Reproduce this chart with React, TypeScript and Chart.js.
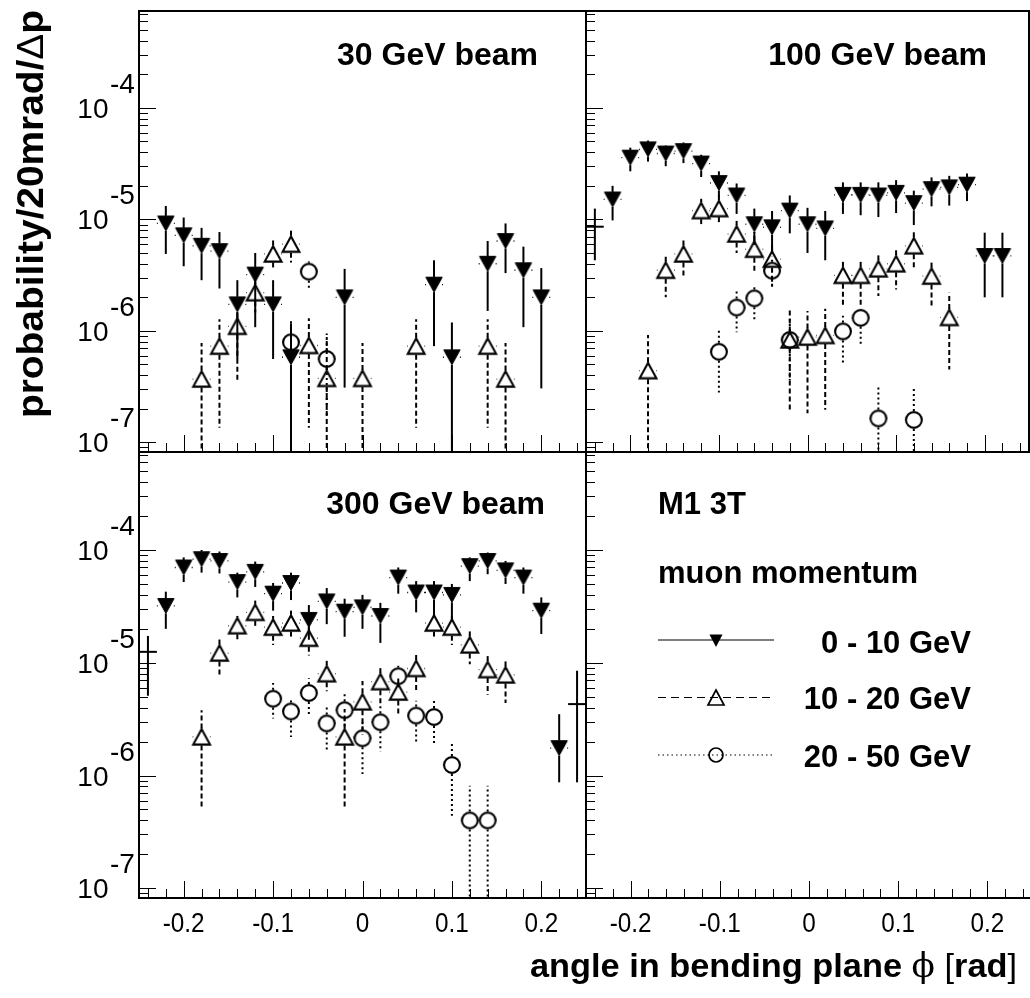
import React, { useEffect, useRef } from "react";
import { Chart, registerables } from "chart.js";

Chart.register(...registerables);

const FONT = '"Liberation Sans", Arial, Helvetica, sans-serif';
const CANVAS_W = 1040;
const CANVAS_H = 998;

const X_MIN = -0.25;
const X_MAX = 0.25;
const Y_MIN = 8.2e-8;
const Y_MAX = 7.4e-4;
const HALF_BIN = 0.01;

const xMajorTicks = [-0.2, -0.1, 0, 0.1, 0.2];
const xTickLabels = ["-0.2", "-0.1", "0", "0.1", "0.2"];
const yDecadeValues = [1e-4, 1e-5, 1e-6, 1e-7];
const yDecadeExponents = ["-4", "-5", "-6", "-7"];

const beamTitles = ["30 GeV beam", "100 GeV beam", "300 GeV beam"];
const legendHeader = ["M1 3T", "muon momentum"];
const legendLabels = ["0 - 10 GeV", "10 - 20 GeV", "20 - 50 GeV"];
const yTitle = "probability/20mrad/";
const xTitle = "angle in bending plane ";

// ---------- 30 GeV beam ----------
const b30_m0_x = [-0.22, -0.2, -0.18, -0.16, -0.14, -0.12, -0.1, -0.08, -0.02, 0.08, 0.1, 0.14, 0.16, 0.18, 0.2];
const b30_m0_y = [9.2e-6, 7.2e-6, 5.8e-6, 5.2e-6, 1.73e-6, 3.2e-6, 1.73e-6, 5.8e-7, 2.0e-6, 2.6e-6, 5.8e-7, 4.0e-6, 6.4e-6, 3.5e-6, 2.0e-6];
const b30_m0_hi = [1.32e-5, 1.04e-5, 8.4e-6, 7.7e-6, 2.85e-6, 5.0e-6, 2.85e-6, 1.17e-6, 3.6e-6, 4.3e-6, 1.19e-6, 6.4e-6, 9.2e-6, 5.7e-6, 3.66e-6];
const b30_m0_lo = [4.9e-6, 3.8e-6, 2.85e-6, 2.4e-6, 5.6e-7, 1.08e-6, 5.6e-7, 0, 3.1e-7, 7.3e-7, 0, 1.51e-6, 3.3e-6, 1.08e-6, 3.05e-7];

const b30_m1_x = [-0.18, -0.16, -0.14, -0.12, -0.1, -0.08, -0.06, -0.04, 0.0, 0.06, 0.14, 0.16];
const b30_m1_y = [3.7e-7, 7.3e-7, 1.1e-6, 2.2e-6, 4.9e-6, 6.0e-6, 7.4e-7, 3.75e-7, 3.75e-7, 7.3e-7, 7.3e-7, 3.7e-7];
const b30_m1_hi = [7.8e-7, 1.27e-6, 1.79e-6, 3.3e-6, 6.5e-6, 8.0e-6, 1.3e-6, 8.8e-7, 7.8e-7, 1.27e-6, 1.27e-6, 7.8e-7];
const b30_m1_lo = [0, 1.35e-7, 3.45e-7, 1.46e-6, 3.6e-6, 4.1e-6, 1.35e-7, 0, 0, 1.35e-7, 1.35e-7, 0];

const b30_m2_x = [-0.08, -0.06, -0.04];
const b30_m2_y = [7.9e-7, 3.4e-6, 5.6e-7];
const b30_m2_hi = [1.3e-6, 4.2e-6, 9.5e-7];
const b30_m2_lo = [2.3e-7, 2.4e-6, 1.7e-7];

// ---------- 100 GeV beam ----------
const b100_m0_x = [-0.22, -0.2, -0.18, -0.16, -0.14, -0.12, -0.1, -0.08, -0.06, -0.04, -0.02, 0.0, 0.02, 0.04, 0.06, 0.08, 0.1, 0.12, 0.14, 0.16, 0.18, 0.2, 0.22];
const b100_m0_y = [1.51e-5, 3.58e-5, 4.25e-5, 3.9e-5, 4.1e-5, 3.17e-5, 2.12e-5, 1.64e-5, 9.05e-6, 8.5e-6, 1.2e-5, 9.05e-6, 8.3e-6, 1.66e-5, 1.66e-5, 1.64e-5, 1.73e-5, 1.4e-5, 1.87e-5, 1.94e-5, 2.05e-5, 4.7e-6, 4.7e-6];
const b100_m0_hi = [2.0e-5, 4.4e-5, 5.1e-5, 4.6e-5, 4.9e-5, 3.8e-5, 2.7e-5, 2.1e-5, 1.25e-5, 1.19e-5, 1.64e-5, 1.27e-5, 1.19e-5, 2.15e-5, 2.15e-5, 2.15e-5, 2.25e-5, 1.81e-5, 2.38e-5, 2.46e-5, 2.58e-5, 7.6e-6, 7.6e-6];
const b100_m0_lo = [9.8e-6, 2.7e-5, 3.3e-5, 3.0e-5, 3.2e-5, 2.4e-5, 1.58e-5, 1.12e-5, 5.9e-6, 5.0e-6, 7.5e-6, 5.0e-6, 4.3e-6, 1.12e-5, 1.09e-5, 1.05e-5, 1.14e-5, 8.9e-6, 1.31e-5, 1.33e-5, 1.46e-5, 2.0e-6, 2.0e-6];

const b100_m1_x = [-0.18, -0.16, -0.14, -0.12, -0.1, -0.08, -0.06, -0.04, -0.02, 0.0, 0.02, 0.04, 0.06, 0.08, 0.1, 0.12, 0.14, 0.16];
const b100_m1_y = [4.4e-7, 3.5e-6, 4.9e-6, 1.2e-5, 1.25e-5, 7.4e-6, 5.4e-6, 4.4e-6, 8.3e-7, 8.8e-7, 9.1e-7, 3.15e-6, 3.15e-6, 3.6e-6, 4.0e-6, 5.8e-6, 3.1e-6, 1.32e-6];
const b100_m1_hi = [9.2e-7, 4.7e-6, 6.5e-6, 1.53e-5, 1.64e-5, 9.7e-6, 7.7e-6, 6.0e-6, 1.56e-6, 1.51e-6, 1.58e-6, 4.2e-6, 4.2e-6, 4.8e-6, 5.3e-6, 7.7e-6, 4.1e-6, 2.2e-6];
const b100_m1_lo = [0, 2.0e-6, 3.05e-6, 8.9e-6, 9.3e-6, 5.0e-6, 3.4e-6, 2.5e-6, 1.9e-7, 1.83e-7, 1.96e-7, 1.68e-6, 1.68e-6, 2.06e-6, 2.35e-6, 3.7e-6, 1.68e-6, 4.5e-7];

const b100_m2_x = [-0.1, -0.08, -0.06, -0.04, -0.02, 0.04, 0.06, 0.08, 0.12];
const b100_m2_y = [6.5e-7, 1.62e-6, 1.96e-6, 3.47e-6, 8.3e-7, 9.9e-7, 1.31e-6, 1.64e-7, 1.59e-7];
const b100_m2_hi = [1.04e-6, 2.28e-6, 2.6e-6, 4.66e-6, 1.3e-6, 1.37e-6, 1.56e-6, 3.3e-7, 3.2e-7];
const b100_m2_lo = [2.8e-7, 9.7e-7, 1.23e-6, 2.5e-6, 3.6e-7, 5.1e-7, 7.4e-7, 0, 0];

const b100_edge_x = [-0.24];
const b100_edge_y = [8.6e-6];
const b100_edge_hi = [1.25e-5];
const b100_edge_lo = [4.3e-6];

// ---------- 300 GeV beam ----------
const b300_m0_x = [-0.22, -0.2, -0.18, -0.16, -0.14, -0.12, -0.1, -0.08, -0.06, -0.04, -0.02, 0.0, 0.02, 0.04, 0.06, 0.08, 0.1, 0.12, 0.14, 0.16, 0.18, 0.2, 0.22];
const b300_m0_y = [3.19e-5, 7.0e-5, 8.3e-5, 8.0e-5, 5.2e-5, 6.4e-5, 4.1e-5, 5.1e-5, 2.4e-5, 3.5e-5, 2.84e-5, 3.1e-5, 2.6e-5, 5.7e-5, 4.2e-5, 4.2e-5, 4.0e-5, 7.2e-5, 8.0e-5, 6.6e-5, 5.7e-5, 2.9e-5, 1.75e-6];
const b300_m0_hi = [4.27e-5, 8.6e-5, 1.0e-4, 9.7e-5, 6.3e-5, 7.9e-5, 5.1e-5, 6.3e-5, 3.25e-5, 4.6e-5, 3.7e-5, 4.0e-5, 3.4e-5, 7.0e-5, 5.3e-5, 5.3e-5, 5.0e-5, 8.6e-5, 9.5e-5, 8.0e-5, 7.0e-5, 3.8e-5, 3.5e-6];
const b300_m0_lo = [2.0e-5, 5.2e-5, 6.3e-5, 6.2e-5, 3.8e-5, 4.7e-5, 2.9e-5, 3.6e-5, 1.6e-5, 2.2e-5, 1.7e-5, 2.0e-5, 1.5e-5, 4.1e-5, 2.8e-5, 2.6e-5, 2.4e-5, 5.3e-5, 6.1e-5, 5.0e-5, 4.1e-5, 1.8e-5, 8.7e-7];

const b300_m1_x = [-0.18, -0.16, -0.14, -0.12, -0.1, -0.08, -0.06, -0.04, -0.02, 0.0, 0.02, 0.04, 0.06, 0.08, 0.1, 0.12, 0.14, 0.16];
const b300_m1_y = [2.2e-6, 1.22e-5, 2.13e-5, 2.8e-5, 2.07e-5, 2.25e-5, 1.65e-5, 8.0e-6, 2.2e-6, 4.5e-6, 6.8e-6, 5.5e-6, 8.9e-6, 2.25e-5, 2.07e-5, 1.44e-5, 8.7e-6, 7.8e-6];
const b300_m1_hi = [3.8e-6, 1.63e-5, 2.6e-5, 3.56e-5, 2.6e-5, 2.9e-5, 2.1e-5, 1.04e-5, 3.9e-6, 6.9e-6, 9.1e-6, 7.5e-6, 1.24e-5, 2.9e-5, 2.6e-5, 1.93e-5, 1.17e-5, 1.04e-5];
const b300_m1_lo = [5.1e-7, 7.7e-6, 1.52e-5, 2.1e-5, 1.44e-5, 1.63e-5, 1.16e-5, 5.6e-6, 5.1e-7, 2.3e-6, 4.3e-6, 3.5e-6, 5.5e-6, 1.63e-5, 1.44e-5, 9.7e-6, 5.2e-6, 4.4e-6];

const b300_m2_x = [-0.1, -0.08, -0.06, -0.04, -0.02, 0.0, 0.02, 0.04, 0.06, 0.08, 0.1, 0.12, 0.14];
const b300_m2_y = [4.8e-6, 3.7e-6, 5.4e-6, 2.9e-6, 3.8e-6, 2.14e-6, 2.97e-6, 7.6e-6, 3.4e-6, 3.3e-6, 1.24e-6, 4.0e-7, 4.0e-7];
const b300_m2_hi = [6.6e-6, 4.9e-6, 7.3e-6, 4.2e-6, 5.3e-6, 2.97e-6, 4.2e-6, 9.4e-6, 4.6e-6, 4.6e-6, 1.9e-6, 8.1e-7, 8.1e-7];
const b300_m2_lo = [3.2e-6, 2.2e-6, 3.5e-6, 1.66e-6, 2.6e-6, 1.03e-6, 1.63e-6, 5.9e-6, 1.97e-6, 1.9e-6, 4.4e-7, 0, 0];

const b300_edge_x = [-0.24, 0.24];
const b300_edge_y = [1.25e-5, 4.3e-6];
const b300_edge_hi = [1.73e-5, 8.5e-6];
const b300_edge_lo = [5.1e-6, 8.7e-7];

// ---------- layout ----------
const RECT_TL = { l: 139, r: 586, t: 6, b: 452 };
const RECT_TR = { l: 586, r: 1032, t: 6, b: 452 };
const RECT_BL = { l: 139, r: 586, t: 452, b: 898 };
const RECT_BR = { l: 586, r: 1032, t: 452, b: 898 };

const STYLE: any = {
  A: { dash: [], gy: 7.5, gx: 8 },
  B: { dash: [5, 3], gy: 8.5, gx: 8.3 },
  C: { dash: [2, 3], gy: 9, gx: 8.5 },
  E: { dash: [], gy: 0, gx: 0 },
};

let markerCache: any = null;
function getMarkers() {
  if (markerCache) return markerCache;
  const mk = (w: number, h: number, draw: (g: CanvasRenderingContext2D) => void) => {
    const c = document.createElement("canvas");
    c.width = w;
    c.height = h;
    const g = c.getContext("2d")!;
    draw(g);
    return c;
  };
  const A = mk(22, 22, (g) => {
    g.fillStyle = "#000";
    g.strokeStyle = "#000";
    g.lineWidth = 1;
    g.lineJoin = "round";
    g.beginPath();
    g.moveTo(2.8, 3.6);
    g.lineTo(19.2, 3.6);
    g.lineTo(11, 18.4);
    g.closePath();
    g.fill();
    g.stroke();
  });
  const B = mk(22, 22, (g) => {
    g.strokeStyle = "#000";
    g.lineWidth = 2.1;
    g.beginPath();
    g.moveTo(11, 3.2);
    g.lineTo(19.4, 18.6);
    g.lineTo(2.6, 18.6);
    g.closePath();
    g.stroke();
  });
  const C = mk(22, 22, (g) => {
    g.strokeStyle = "#000";
    g.lineWidth = 2.1;
    g.beginPath();
    g.arc(11, 11, 7.9, 0, Math.PI * 2);
    g.stroke();
  });
  markerCache = { A, B, C };
  return markerCache;
}

function series(kind: string, xs: number[], ys: number[], hi: number[], lo: number[]) {
  const markers = getMarkers();
  const noMarker = kind === "E";
  return {
    kind,
    errHi: hi,
    errLo: lo,
    data: xs.map((x, i) => ({ x, y: ys[i] })),
    pointStyle: noMarker ? "circle" : markers[kind],
    pointRadius: noMarker ? 0 : 10,
    pointHoverRadius: noMarker ? 0 : 10,
    borderColor: "#000",
    backgroundColor: "#000",
    showLine: false,
  };
}

function seg(ctx: CanvasRenderingContext2D, x1: number, y1: number, x2: number, y2: number) {
  ctx.beginPath();
  ctx.moveTo(x1, y1);
  ctx.lineTo(x2, y2);
  ctx.stroke();
}

function drawText(ctx: CanvasRenderingContext2D, text: string, x: number, y: number, font: string, align: CanvasTextAlign, sx = 1) {
  ctx.save();
  ctx.font = font;
  ctx.textAlign = align;
  ctx.textBaseline = "alphabetic";
  ctx.fillStyle = "#000";
  ctx.translate(x, y);
  ctx.scale(sx, 1);
  ctx.fillText(text, 0, 0);
  ctx.restore();
}

function drawPieces(ctx: CanvasRenderingContext2D, pieces: [string, string][], x: number, y: number, align: string, targetW: number) {
  const widths = pieces.map(([t, f]) => {
    ctx.font = f;
    return ctx.measureText(t).width;
  });
  const total = widths.reduce((a, b) => a + b, 0);
  const sx = targetW / total;
  const start = align === "right" ? x - total * sx : align === "center" ? x - (total * sx) / 2 : x;
  ctx.save();
  ctx.translate(start, y);
  ctx.scale(sx, 1);
  ctx.fillStyle = "#000";
  ctx.textAlign = "left";
  ctx.textBaseline = "alphabetic";
  let cx = 0;
  pieces.forEach(([t, f], i) => {
    ctx.font = f;
    ctx.fillText(t, cx, 0);
    cx += widths[i];
  });
  ctx.restore();
}

const errorBarPlugin = {
  id: "errorBars",
  beforeDatasetsDraw(chart: any) {
    const { ctx, chartArea: ca, scales } = chart;
    const xs = scales.x;
    const ys = scales.y;
    ctx.save();
    ctx.beginPath();
    ctx.rect(ca.left, ca.top, ca.right - ca.left, ca.bottom - ca.top);
    ctx.clip();
    ctx.strokeStyle = "#000";
    ctx.lineCap = "butt";
    chart.data.datasets.forEach((ds: any, i: number) => {
      const meta = chart.getDatasetMeta(i);
      const st = STYLE[ds.kind];
      meta.data.forEach((el: any, j: number) => {
        const px = el.x;
        const py = el.y;
        const xv = ds.data[j].x;
        const xl = xs.getPixelForValue(xv - HALF_BIN);
        const xr = xs.getPixelForValue(xv + HALF_BIN);
        const yh = ys.getPixelForValue(ds.errHi[j]);
        const yl = ds.errLo[j] > 0 ? ys.getPixelForValue(ds.errLo[j]) : ca.bottom + 10;
        ctx.setLineDash(st.dash);
        ctx.lineWidth = 2;
        if (py - st.gy > yh) seg(ctx, px, py - st.gy, px, yh);
        if (yl > py + st.gy) seg(ctx, px, py + st.gy, px, yl);
        ctx.setLineDash([]);
        ctx.lineWidth = ds.kind === "E" ? 2 : 1.3;
        if (px - st.gx > xl) seg(ctx, xl, py, px - st.gx, py);
        if (xr > px + st.gx) seg(ctx, px + st.gx, py, xr, py);
      });
    });
    ctx.restore();
  },
};

const decorPlugin = {
  id: "decor",
  afterDraw(chart: any, _args: any, opts: any) {
    const { ctx, chartArea: ca, scales } = chart;
    const xs = scales.x;
    const ys = scales.y;
    ctx.save();
    ctx.strokeStyle = "#000";
    ctx.setLineDash([]);
    ctx.lineWidth = 1;
    // y ticks (log, inward)
    for (let e = -8; e <= -3; e++) {
      for (let m = 1; m <= 9; m++) {
        const v = m * Math.pow(10, e);
        if (v < Y_MIN || v > Y_MAX) continue;
        const py = Math.round(ys.getPixelForValue(v)) + 0.5;
        const len = m === 1 ? 17 : 9;
        seg(ctx, ca.left, py, ca.left + len, py);
      }
    }
    // x ticks
    for (let i = -12; i <= 12; i++) {
      const px = Math.round(xs.getPixelForValue(i / 50)) + 0.5;
      const len = i % 5 === 0 ? 17 : 9;
      seg(ctx, px, ca.bottom, px, ca.bottom - len);
    }
    // frame
    ctx.lineWidth = 2;
    ctx.strokeRect(ca.left, ca.top, ca.right - ca.left, ca.bottom - ca.top);

    if (opts.yLabels) {
      yDecadeValues.forEach((v, i) => {
        const py = ys.getPixelForValue(v);
        drawText(ctx, "10", 108.5, py + 10, `28px ${FONT}`, "right");
        drawText(ctx, yDecadeExponents[i], 110, py - 15, `28px ${FONT}`, "left");
      });
    }
    if (opts.xLabels) {
      xMajorTicks.forEach((v, i) => {
        const px = xs.getPixelForValue(v);
        drawText(ctx, xTickLabels[i], px, 932, `27px ${FONT}`, "center", 0.9);
      });
    }
    if (opts.title) {
      drawText(ctx, opts.title.text, opts.title.x, opts.title.y, `bold 32px ${FONT}`, opts.title.align || "left");
    }
    if (opts.yTitle) {
      ctx.save();
      ctx.translate(43, 214);
      ctx.rotate(-Math.PI / 2);
      drawPieces(
        ctx,
        [
          [yTitle, `bold 36px ${FONT}`],
          ["\u0394", `36px ${FONT}`],
          ["p", `bold 36px ${FONT}`],
        ],
        0,
        0,
        "center",
        408
      );
      ctx.restore();
    }
    if (opts.xTitle) {
      drawPieces(
        ctx,
        [
          [xTitle, `bold 34px ${FONT}`],
          ["\u03d5", `34px "DejaVu Serif", serif`],
          [" ", `bold 34px ${FONT}`],
          ["[", `34px ${FONT}`],
          ["rad", `bold 34px ${FONT}`],
          ["]", `34px ${FONT}`],
        ],
        1017,
        977,
        "right",
        487
      );
    }
    if (opts.legend) {
      const bf = `bold 31px ${FONT}`;
      drawText(ctx, legendHeader[0], 658, 514, bf, "left");
      drawText(ctx, legendHeader[1], 658, 583, bf, "left");
      const rowY = [640, 697.5, 755];
      const textY = [652.7, 709.3, 766.7];
      const dashes = [[], [8, 5], [1.5, 3]];
      const mx = 716;
      rowY.forEach((y, r) => {
        ctx.setLineDash(dashes[r]);
        ctx.lineWidth = 1.2;
        seg(ctx, 658, y, 774, y);
        ctx.setLineDash([]);
        if (r === 0) {
          ctx.fillStyle = "#000";
          ctx.beginPath();
          ctx.moveTo(mx - 6.5, y - 5.5);
          ctx.lineTo(mx + 6.5, y - 5.5);
          ctx.lineTo(mx, y + 7);
          ctx.closePath();
          ctx.fill();
        } else if (r === 1) {
          ctx.lineWidth = 1.7;
          ctx.beginPath();
          ctx.moveTo(mx, y - 7.5);
          ctx.lineTo(mx + 8, y + 7.5);
          ctx.lineTo(mx - 8, y + 7.5);
          ctx.closePath();
          ctx.stroke();
        } else {
          ctx.lineWidth = 1.7;
          ctx.beginPath();
          ctx.arc(mx, y, 7, 0, Math.PI * 2);
          ctx.stroke();
        }
        drawText(ctx, legendLabels[r], 971, textY[r], bf, "right");
      });
    }
    ctx.restore();
  },
};

function makeConfig(rect: any, datasets: any[], decor: any) {
  return {
    type: "scatter",
    data: { datasets },
    options: {
      responsive: false,
      animation: false,
      events: [],
      layout: {
        padding: { left: rect.l, top: rect.t, right: CANVAS_W - rect.r, bottom: CANVAS_H - rect.b },
      },
      scales: {
        x: { type: "linear", min: X_MIN, max: X_MAX, bounds: "data", display: false },
        y: { type: "logarithmic", min: Y_MIN, max: Y_MAX, bounds: "data", display: false },
      },
      plugins: {
        legend: { display: false },
        tooltip: { enabled: false },
        decor,
      },
    },
    plugins: [errorBarPlugin, decorPlugin],
  };
}

const makeTL = () =>
  makeConfig(
    RECT_TL,
    [
      series("A", b30_m0_x, b30_m0_y, b30_m0_hi, b30_m0_lo),
      series("B", b30_m1_x, b30_m1_y, b30_m1_hi, b30_m1_lo),
      series("C", b30_m2_x, b30_m2_y, b30_m2_hi, b30_m2_lo),
    ],
    { yLabels: true, yTitle: true, title: { text: beamTitles[0], x: 538, y: 65, align: "right" } }
  );

const makeTR = () =>
  makeConfig(
    RECT_TR,
    [
      series("E", b100_edge_x, b100_edge_y, b100_edge_hi, b100_edge_lo),
      series("A", b100_m0_x, b100_m0_y, b100_m0_hi, b100_m0_lo),
      series("B", b100_m1_x, b100_m1_y, b100_m1_hi, b100_m1_lo),
      series("C", b100_m2_x, b100_m2_y, b100_m2_hi, b100_m2_lo),
    ],
    { title: { text: beamTitles[1], x: 987, y: 65, align: "right" } }
  );

const makeBL = () =>
  makeConfig(
    RECT_BL,
    [
      series("E", b300_edge_x, b300_edge_y, b300_edge_hi, b300_edge_lo),
      series("A", b300_m0_x, b300_m0_y, b300_m0_hi, b300_m0_lo),
      series("B", b300_m1_x, b300_m1_y, b300_m1_hi, b300_m1_lo),
      series("C", b300_m2_x, b300_m2_y, b300_m2_hi, b300_m2_lo),
    ],
    { yLabels: true, xLabels: true, xTitle: true, title: { text: beamTitles[2], x: 545, y: 514, align: "right" } }
  );

const makeBR = () => makeConfig(RECT_BR, [], { xLabels: true, legend: true });

function ChartCanvas({ make }: { make: () => any }) {
  const ref = useRef<HTMLCanvasElement | null>(null);
  useEffect(() => {
    if (!ref.current) return;
    const chart = new Chart(ref.current, make() as any);
    return () => chart.destroy();
  }, [make]);
  return (
    <canvas
      ref={ref}
      width={CANVAS_W}
      height={CANVAS_H}
      style={{ position: "absolute", left: 0, top: 0 }}
    />
  );
}

export default function App() {
  return (
    <div
      style={{
        position: "fixed",
        left: 0,
        top: 0,
        width: 1030,
        height: 998,
        overflow: "hidden",
        background: "#fff",
      }}
    >
      <ChartCanvas make={makeTL} />
      <ChartCanvas make={makeTR} />
      <ChartCanvas make={makeBL} />
      <ChartCanvas make={makeBR} />
    </div>
  );
}
